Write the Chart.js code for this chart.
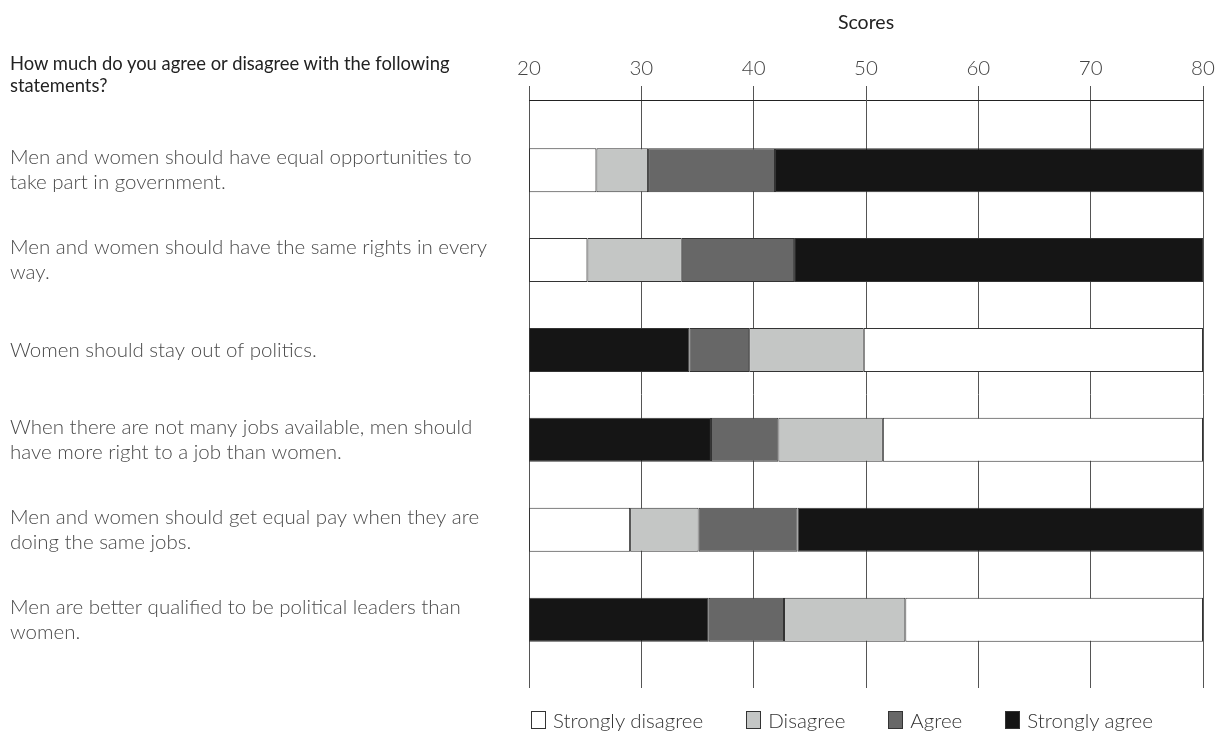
<!DOCTYPE html>
<html>
<head>
<meta charset="utf-8">
<script src="https://cdn.jsdelivr.net/npm/chart.js@4.4.0/dist/chart.umd.min.js"></script>
<style>
  html, body { margin: 0; padding: 0; background: #fff; }
  #wrap { position: relative; width: 1221px; height: 740px; font-family: Lato, 'Open Sans', sans-serif; }
  #chart_scores { position: absolute; left: 0; top: 0; }
  #question { position: absolute; left: 10px; top: 52px; font-size: 18.4px; line-height: 22px; color: #222; }
  #legend { position: absolute; left: 531px; top: 707px; display: flex; gap: 43px; font-size: 20.5px; font-weight: 300; color: #333; line-height: 26px; }
  #legend .item { display: flex; align-items: center; }
  #legend .box { width: 15px; height: 18px; border: 1px solid #333; margin-right: 7px; box-sizing: border-box; }
</style>
</head>
<body>
<div id="wrap">
  <canvas id="chart_scores" width="1221" height="740"></canvas>
  <div id="question">How much do you agree or disagree with the following<br>statements?</div>
  <div id="legend"></div>
</div>
<script>
const statements = [
    ['Men and women should have equal opportunities to', 'take part in government.'],
    ['Men and women should have the same rights in every', 'way.'],
    'Women should stay out of politics.',
    ['When there are not many jobs available, men should', 'have more right to a job than women.'],
    ['Men and women should get equal pay when they are', 'doing the same jobs.'],
    ['Men are better qualified to be political leaders than', 'women.'],
];

// which end of the scale each row starts from
const rowOrder = ['disagreeFirst', 'disagreeFirst', 'agreeFirst', 'agreeFirst', 'disagreeFirst', 'agreeFirst'];

const categories = ['Strongly disagree', 'Disagree', 'Agree', 'Strongly agree'];

// segment lengths (score units) per statement
const stronglyDisagree = [6.0, 5.2, 30.2, 28.5, 9.0, 26.5];
const disagree = [4.6, 8.4, 10.2, 9.3, 6.1, 10.8];
const agree = [11.3, 10.0, 5.3, 6.0, 8.8, 6.7];
const stronglyAgree = [38.1, 36.4, 14.3, 16.2, 36.1, 16.0];

const scoreMin = 20;
const scoreMax = 80;
const scoreStep = 10;

const colors = ['#ffffff', '#c4c6c5', '#676767', '#151515'];

const series = [stronglyDisagree, disagree, agree, stronglyAgree];

// build floating bars: each row stacks its segments from the axis start
const ranges = series.map(() => []);
statements.forEach((_, i) => {
    const order = rowOrder[i] === 'disagreeFirst' ? [0, 1, 2, 3] : [3, 2, 1, 0];
    let start = scoreMin;
    order.forEach(k => {
        const end = start + series[k][i];
        ranges[k][i] = { x: [start, end], y: i };
        start = end;
    });
});

const datasets = categories.map((label, k) => ({
    label,
    data: ranges[k],
    backgroundColor: colors[k],
    borderColor: '#333',
    borderWidth: 1,
    borderSkipped: false,
    grouped: false,
    maxBarThickness: 44,
}));

const canvas = document.getElementById('chart_scores');

new Chart(canvas, {
    type: 'bar',
    data: { datasets },
    options: {
        indexAxis: 'y',
        responsive: false,
        animation: false,
        layout: { padding: { left: 10, right: 18, top: 0, bottom: 52 } },
        plugins: {
            legend: { display: false },
            tooltip: { enabled: false },
        },
        scales: {
            x: {
                type: 'linear',
                position: 'top',
                min: scoreMin,
                max: scoreMax,
                ticks: {
                    stepSize: scoreStep,
                    color: '#444',
                    padding: 5,
                    font: { family: 'Lato', size: 20.5, weight: 300 },
                },
                grid: { color: '#555', lineWidth: 1, tickLength: 14 },
                border: { display: true, color: '#222' },
                title: {
                    display: true,
                    text: 'Scores',
                    color: '#222',
                    padding: { top: 11, bottom: 0 },
                    font: { family: 'Lato', size: 19.5 },
                },
                afterFit: (scale) => { scale.height = 100; },
            },
            y: {
                type: 'linear',
                reverse: true,
                offset: false,
                min: -0.78,
                max: 5.76,
                afterBuildTicks: (axis) => {
                    axis.ticks = statements.map((_, i) => ({ value: i }));
                },
                ticks: {
                    autoSkip: false,
                    crossAlign: 'far',
                    color: '#4a4a4a',
                    callback: (value) => statements[value],
                    font: { family: 'Lato', size: 20.5, weight: 300, lineHeight: 1.22 },
                },
                grid: { display: false, offset: false },
                border: { display: false },
                afterFit: (scale) => { scale.width = 519; },
            },
        },
    },
});

// legend below the plot
const legendEl = document.getElementById('legend');
categories.forEach((label, k) => {
    const item = document.createElement('div');
    item.className = 'item';
    item.innerHTML = `<span class="box" style="background:${colors[k]}"></span><span>${label}</span>`;
    legendEl.appendChild(item);
});
</script>
</body>
</html>
